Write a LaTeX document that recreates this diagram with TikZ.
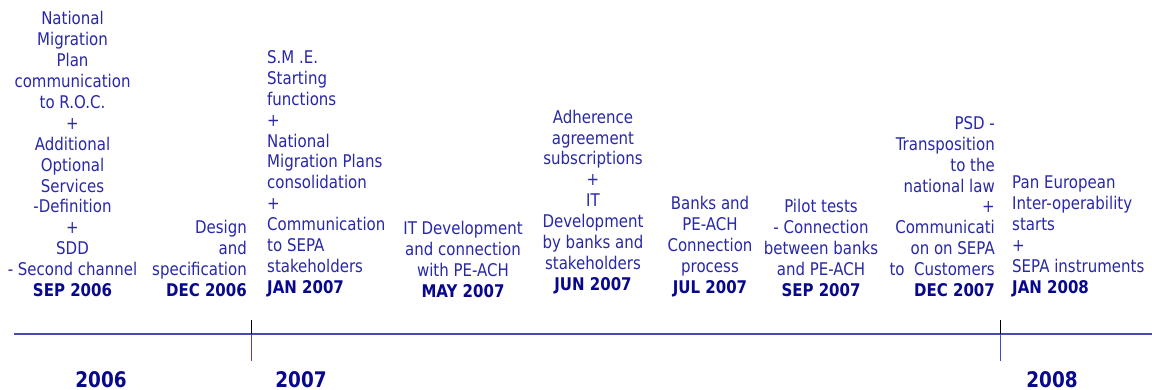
\documentclass[tikz,border=0pt]{standalone}
\usepackage{fontspec}
\setmainfont{DejaVu Sans}[FakeStretch=0.857]
\definecolor{txtblue}{RGB}{40,40,168}
\definecolor{datenavy}{RGB}{8,8,140}
\definecolor{lineblue}{RGB}{72,72,182}
\newcommand{\dt}[1]{{\color{datenavy}\bfseries #1}}
\tikzset{
  evt/.style={inner sep=0pt, text=txtblue, font=\fontsize{17.5}{20.9}\selectfont},
  yearlbl/.style={inner sep=0pt, text=datenavy, font=\fontsize{21.5}{24}\selectfont\bfseries, anchor=base},
  axis/.style={draw=lineblue, line width=2pt},
  tickup/.style={draw=black, line width=0.8pt},
  tickdn/.style={draw=lineblue, line width=0.9pt}
}
\begin{document}
\begin{tikzpicture}[x=1pt,y=-1pt]
\useasboundingbox[fill=white] (0,0) rectangle (1152,389);

% events
\node[evt, align=center, anchor=south] (sep06) at (72.5,297)
  {National\\Migration\\Plan\\communication\\to R.O.C.\\+\\Additional\\Optional\\Services\\-Definition\\+\\SDD\\- Second channel\\\dt{SEP 2006}};
\node[evt, align=right, anchor=south east] (dec06) at (247,297)
  {Design\\and\\specification\\\dt{DEC 2006}};
\node[evt, align=left, anchor=south west] (jan07) at (267,297)
  {S.M .E.\\Starting\\functions\\+\\National\\Migration Plans\\consolidation\\+\\Communication\\to SEPA\\stakeholders\\\dt{JAN 2007}};
\node[evt, align=center, anchor=south] (may07) at (463,298)
  {IT Development\\and connection\\with PE-ACH\\\dt{MAY 2007}};
\node[evt, align=center, anchor=south] (jun07) at (593,294)
  {Adherence\\agreement\\subscriptions\\+\\IT\\Development\\by banks and\\stakeholders\\\dt{JUN 2007}};
\node[evt, align=center, anchor=south] (jul07) at (710,297)
  {Banks and\\PE-ACH\\Connection\\process\\\dt{JUL 2007}};
\node[evt, align=center, anchor=south] (sep07) at (821,297)
  {Pilot tests\\- Connection\\between banks\\and PE-ACH\\\dt{SEP 2007}};
\node[evt, align=right, anchor=south east] (dec07) at (995,297)
  {PSD -\\Transposition\\to the\\national law\\+\\Communicati\\on on SEPA\\to\ \ Customers\\\dt{DEC 2007}};
\node[evt, align=left, anchor=south west] (jan08) at (1012,297)
  {Pan European\\Inter-operability\\starts\\+\\SEPA instruments\\\dt{JAN 2008}};

% axis
\coordinate (axL) at (14,333.5);
\coordinate (axR) at (1152,333.5);
\draw[axis] (axL) -- (axR);
\coordinate (t1top) at (251,320);
\coordinate (t1mid) at (251,333.5);
\coordinate (t1bot) at (251,361);
\coordinate (t2top) at (1000,320);
\coordinate (t2mid) at (1000,333.5);
\coordinate (t2bot) at (1000,361);
\draw[tickup] (t1top) -- (t1mid);
\draw[tickdn] (t1mid) -- (t1bot);
\draw[tickup] (t2top) -- (t2mid);
\draw[tickdn] (t2mid) -- (t2bot);

% years
\node[yearlbl] (y06) at (101,387) {2006};
\node[yearlbl] (y07) at (301,387) {2007};
\node[yearlbl] (y08) at (1052,387) {2008};
\end{tikzpicture}
\end{document}
